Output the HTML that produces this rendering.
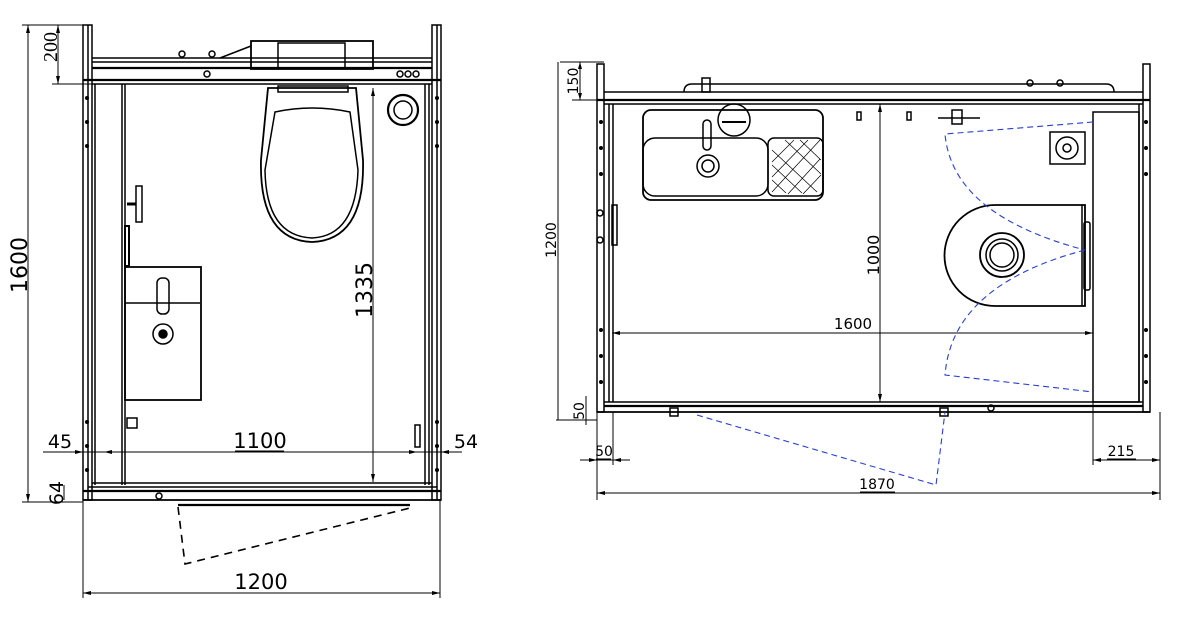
<!DOCTYPE html>
<html><head><meta charset="utf-8"><style>
html,body{margin:0;padding:0;background:#fff;}
svg{display:block;}
text{font-family:"DejaVu Sans","Liberation Sans",sans-serif;fill:#000;}
</style></head><body>
<svg width="1188" height="628" viewBox="0 0 1188 628" xmlns="http://www.w3.org/2000/svg">
<g fill="none" stroke="#000" stroke-width="1.5">
<!-- LEFT PLAN -->
<rect x="83" y="25" width="9" height="475"/>
<rect x="432" y="25" width="9" height="475"/>
<line x1="88" y1="25" x2="88" y2="500"/>
<line x1="437" y1="25" x2="437" y2="500"/>
<line x1="92" y1="58" x2="432" y2="58"/>
<line x1="92" y1="62" x2="432" y2="62"/>
<line x1="92" y1="68" x2="432" y2="68" stroke-width="2.2"/>
<line x1="83" y1="80" x2="441" y2="80" stroke-width="2.2"/>
<line x1="92" y1="84" x2="432" y2="84"/>
<line x1="95" y1="84" x2="95" y2="485"/>
<line x1="122" y1="84" x2="122" y2="485"/>
<line x1="125" y1="84" x2="125" y2="485"/>
<line x1="425" y1="84" x2="425" y2="485"/>
<line x1="429" y1="84" x2="429" y2="485"/>
<line x1="92" y1="483" x2="432" y2="483"/>
<line x1="88" y1="487" x2="437" y2="487"/>
<line x1="83" y1="491" x2="441" y2="491" stroke-width="2.2"/>
<line x1="83" y1="500" x2="441" y2="500" stroke-width="1.8"/>
<circle cx="159" cy="496" r="3"/>
<rect x="251" y="41" width="122" height="28" stroke-width="1.8"/>
<rect x="278" y="43" width="67" height="25"/>
<line x1="220" y1="58" x2="251" y2="46"/>
<circle cx="182" cy="54" r="3"/><circle cx="212" cy="54" r="3"/>
<circle cx="207" cy="74" r="3"/><circle cx="400" cy="74" r="3"/><circle cx="408" cy="74" r="3"/><circle cx="416" cy="74" r="3"/>
<path d="M268 88 L356 88 L363 160 Q365 240 312 242 Q259 240 261 160 Z" stroke-width="1.8"/>
<path d="M275 112 Q312 104 350 112 L358 170 Q356 236 312 238 Q266 236 265 170 Z"/>
<rect x="278" y="86" width="70" height="6"/>
<circle cx="403" cy="110" r="15" stroke-width="2.2"/>
<circle cx="403" cy="110" r="9"/>
<rect x="136" y="186" width="6" height="36"/>
<line x1="127" y1="204" x2="136" y2="204" stroke-width="3"/>
<rect x="125" y="226" width="4" height="40" stroke-width="2"/>
<rect x="125" y="267" width="76" height="133" stroke-width="1.8"/>
<line x1="125" y1="303" x2="200" y2="303"/>
<rect x="157" y="278" width="12" height="36" rx="5"/>
<circle cx="163" cy="334" r="10"/>
<circle cx="163" cy="334" r="4" fill="#000"/>
<rect x="127" y="418" width="10" height="10"/>
<rect x="415" y="425" width="5" height="22"/>
<line x1="178" y1="505" x2="410" y2="505" stroke-width="2.2"/>
<path d="M178 507 L185 564 L410 508" stroke-dasharray="8,6" stroke-width="1.6"/>
<g fill="#000" stroke="none">
<circle cx="87" cy="98" r="2"/><circle cx="87" cy="122" r="2"/><circle cx="87" cy="146" r="2"/>
<circle cx="437" cy="98" r="2"/><circle cx="437" cy="122" r="2"/><circle cx="437" cy="146" r="2"/>
<circle cx="87" cy="422" r="2"/><circle cx="87" cy="446" r="2"/><circle cx="87" cy="470" r="2"/>
<circle cx="437" cy="422" r="2"/><circle cx="437" cy="446" r="2"/><circle cx="437" cy="470" r="2"/>
</g>
<g stroke-width="1">
<line x1="22" y1="25" x2="92" y2="25"/>
<line x1="52" y1="84" x2="92" y2="84"/>
<line x1="22" y1="502" x2="83" y2="502"/>
<line x1="28" y1="25" x2="28" y2="502"/>
<line x1="58" y1="25" x2="58" y2="84"/>
<line x1="373" y1="88" x2="373" y2="482"/>
<line x1="43" y1="452" x2="462" y2="452"/>
<line x1="64" y1="485" x2="64" y2="500"/>
<line x1="83" y1="500" x2="83" y2="598"/>
<line x1="440" y1="500" x2="440" y2="598"/>
<line x1="83" y1="593" x2="440" y2="593"/>
<line x1="235" y1="451" x2="284" y2="451"/>
</g>
<g fill="#000" stroke="none">
<path d="M28 25 l-2 8 h4z"/><path d="M28 502 l-2 -8 h4z"/>
<path d="M58 25 l-2 8 h4z"/><path d="M58 84 l-2 -8 h4z"/>
<path d="M373 88 l-2 8 h4z"/><path d="M373 482 l-2 -8 h4z"/>
<path d="M83 593 l8 -2 v4z"/><path d="M440 593 l-8 -2 v4z"/>
<path d="M83 452 l-8 -2 v4z"/><path d="M104 452 l8 -2 v4z"/>
<path d="M417 452 l-8 -2 v4z"/><path d="M441 452 l8 -2 v4z"/>
</g>

<!-- RIGHT PLAN -->
<rect x="597" y="64" width="7" height="348"/>
<rect x="1143" y="64" width="7" height="348"/>
<line x1="604" y1="92" x2="1143" y2="92"/>
<line x1="597" y1="100" x2="1150" y2="100" stroke-width="2.2"/>
<line x1="604" y1="104" x2="1143" y2="104"/>
<line x1="609" y1="104" x2="609" y2="402"/>
<line x1="613" y1="104" x2="613" y2="402"/>
<line x1="1139" y1="104" x2="1139" y2="402"/>
<line x1="604" y1="402" x2="1143" y2="402"/>
<line x1="604" y1="406" x2="1143" y2="406" stroke-width="2.2"/>
<line x1="597" y1="412" x2="1150" y2="412" stroke-width="1.8"/>
<path d="M684 92 Q684 84 692 84 L1106 84 Q1114 84 1114 92"/>
<rect x="702" y="78" width="8" height="14"/>
<circle cx="1030" cy="83" r="3"/><circle cx="1060" cy="83" r="3"/>
<rect x="1093" y="112" width="46" height="290"/>
<rect x="643" y="110" width="180" height="90" rx="8" stroke-width="1.8"/>
<rect x="643" y="138" width="125" height="58" rx="12"/>
<rect x="768" y="138" width="55" height="58" rx="6"/>
<g stroke-width="0.7">
<path d="M772 150 l45 42 M772 165 l30 28 M785 140 l36 34 M800 140 l21 20 M772 180 l14 13 M772 192 l48 -52 M772 177 l36 -37 M772 162 l22 -22 M788 194 l32 -35 M803 194 l18 -19"/>
</g>
<circle cx="734" cy="120" r="16"/>
<line x1="722" y1="122" x2="746" y2="122" stroke-width="2"/>
<rect x="703" y="120" width="8" height="30" rx="4"/>
<circle cx="708" cy="166" r="11"/><circle cx="708" cy="166" r="6"/>
<rect x="857" y="112" width="4" height="8"/><rect x="907" y="112" width="4" height="8"/>
<rect x="952" y="110" width="10" height="14"/><line x1="938" y1="118" x2="980" y2="118"/>
<rect x="1050" y="132" width="35" height="32"/>
<circle cx="1067" cy="148" r="11"/><circle cx="1067" cy="148" r="4"/>
<path d="M995 205 L1085 205 L1085 306 L995 306 A50.5 50.5 0 0 1 995 205 Z" stroke-width="1.8"/>
<line x1="1082" y1="205" x2="1082" y2="306"/>
<rect x="1084" y="222" width="6" height="68" rx="2"/>
<circle cx="1002" cy="255" r="22" stroke-width="1.8"/>
<circle cx="1002" cy="255" r="16"/><circle cx="1002" cy="255" r="12"/>
<rect x="612" y="205" width="5" height="40"/>
<circle cx="600" cy="213" r="3"/><circle cx="600" cy="240" r="3"/>
<rect x="670" y="408" width="8" height="8"/><rect x="940" y="408" width="8" height="8"/>
<circle cx="991" cy="408" r="3"/>
<g fill="#000" stroke="none">
<circle cx="601" cy="122" r="2"/><circle cx="601" cy="148" r="2"/><circle cx="601" cy="174" r="2"/>
<circle cx="601" cy="330" r="2"/><circle cx="601" cy="356" r="2"/><circle cx="601" cy="382" r="2"/>
<circle cx="1146" cy="122" r="2"/><circle cx="1146" cy="148" r="2"/><circle cx="1146" cy="174" r="2"/>
<circle cx="1146" cy="330" r="2"/><circle cx="1146" cy="356" r="2"/><circle cx="1146" cy="382" r="2"/>
</g>
<g stroke="#2a3fd0" stroke-dasharray="6,4" stroke-width="1.1">
<path d="M1093 122 L945 134 Q952 215 1085 250"/>
<path d="M1085 250 Q952 285 945 375 L1093 392"/>
<path d="M697 415 L936 485 L945 412"/>
</g>
<g stroke-width="1">
<line x1="560" y1="62" x2="604" y2="62"/>
<line x1="572" y1="100" x2="597" y2="100"/>
<line x1="580" y1="62" x2="580" y2="100"/>
<line x1="558" y1="62" x2="558" y2="420"/>
<line x1="556" y1="420" x2="597" y2="420"/>
<line x1="586" y1="396" x2="586" y2="425"/>
<line x1="880" y1="104" x2="880" y2="402"/>
<line x1="612" y1="333" x2="1093" y2="333"/>
<line x1="1093" y1="333" x2="1093" y2="465"/>
<line x1="597" y1="412" x2="597" y2="500"/>
<line x1="613" y1="412" x2="613" y2="465"/>
<line x1="1160" y1="412" x2="1160" y2="500"/>
<line x1="580" y1="460" x2="630" y2="460"/>
<line x1="1093" y1="460" x2="1160" y2="460"/>
<line x1="597" y1="493" x2="1160" y2="493"/>
<line x1="1107" y1="459" x2="1136" y2="459"/>
<line x1="860" y1="492" x2="895" y2="492"/>
<line x1="596" y1="459" x2="611" y2="459"/>
</g>
<g fill="#000" stroke="none">
<path d="M880 104 l-2 8 h4z"/><path d="M880 402 l-2 -8 h4z"/>
<path d="M612 333 l8 -2 v4z"/><path d="M1093 333 l-8 -2 v4z"/>
<path d="M597 493 l8 -2 v4z"/><path d="M1160 493 l-8 -2 v4z"/>
<path d="M1093 460 l8 -2 v4z"/><path d="M1160 460 l-8 -2 v4z"/>
<path d="M597 460 l-8 -2 v4z"/><path d="M613 460 l8 -2 v4z"/>
<path d="M580 62 l-2 7 h4z"/><path d="M580 100 l-2 -7 h4z"/>
</g>
</g>
<g font-size="21">
<text transform="translate(27,265) rotate(-90)" text-anchor="middle" font-size="22">1600</text>
<text transform="translate(57,47) rotate(-90)" text-anchor="middle" font-size="20" style="font-family:'Liberation Serif',serif">200</text>
<text transform="translate(372,290) rotate(-90)" text-anchor="middle" font-size="22">1335</text>
<text x="260" y="448" text-anchor="middle">1100</text>
<text x="60" y="448" text-anchor="middle" font-size="19">45</text>
<text x="466" y="448" text-anchor="middle" font-size="19">54</text>
<text transform="translate(63,493) rotate(-90)" text-anchor="middle" font-size="19">64</text>
<text x="261" y="589" text-anchor="middle">1200</text>
</g>
<g font-size="14">
<text transform="translate(578,81) rotate(-90)" text-anchor="middle">150</text>
<text transform="translate(556,240) rotate(-90)" text-anchor="middle">1200</text>
<text transform="translate(584,411) rotate(-90)" text-anchor="middle">50</text>
<text transform="translate(879,255) rotate(-90)" text-anchor="middle" font-size="16">1000</text>
<text x="853" y="329" text-anchor="middle" font-size="15">1600</text>
<text x="604" y="456" text-anchor="middle">50</text>
<text x="1121" y="456" text-anchor="middle">215</text>
<text x="877" y="489" text-anchor="middle">1870</text>
</g>
</svg>
</body></html>
